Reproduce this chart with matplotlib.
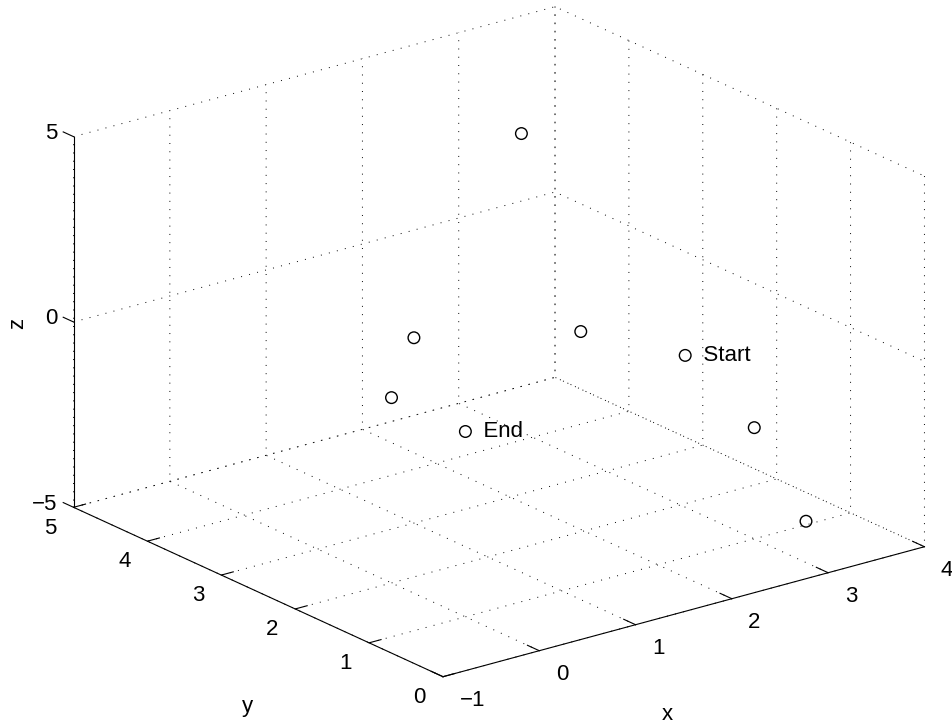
import matplotlib
matplotlib.use("Agg")
import matplotlib.pyplot as plt
from mpl_toolkits.mplot3d import proj3d

# point coordinates (first = Start, last = End)
xs = [3.05, 3.0, 2.77, 3.5, 2.5, 1.0, 0.0, 0.0]
ys = [2.0, 1.0, 0.0, 4.0, 3.5, 3.0, 2.0, 1.0]
zs = [-1.0, -2.0, -3.45, -2.5, 4.0, 0.0, 0.0, 0.0]

xticks = [-1, 0, 1, 2, 3, 4]
yticks = [0, 1, 2, 3, 4, 5]
zticks = [-5, 0, 5]

plt.rcParams['font.family'] = ['Liberation Sans', 'DejaVu Sans']
plt.rcParams['font.size'] = 16

fig = plt.figure(figsize=(9.53, 7.25), dpi=100)
# position fitted so the box lands where the reference has it
ax = fig.add_axes([0.0292, -0.1212, 0.9628, 1.2656], projection='3d',
                  proj_type='ortho')
ax.view_init(elev=20.6, azim=-127.5)
ax.set_box_aspect((1, 1, 0.6525))

x0, x1 = xticks[0], xticks[-1]
y0, y1 = yticks[0], yticks[-1]
z0, z1 = zticks[0], zticks[-1]
ax.set_xlim(x0, x1)
ax.set_ylim(y0, y1)
ax.set_zlim(z0, z1)
ax.set_xticks(xticks)
ax.set_yticks(yticks)
ax.set_zticks(zticks)

for axis, out in ((ax.xaxis, 0.40), (ax.yaxis, 0.31), (ax.zaxis, 0.35)):
    axis.set_pane_color((1, 1, 1, 0))
    axis._axinfo['grid'].update(color='k', linewidth=0.7, linestyle=(0, (1, 7.5)))
    axis._axinfo['axisline']['color'] = 'k'
    axis._axinfo['tick']['inward_factor'] = 0.0
    axis._axinfo['tick']['outward_factor'] = out
    axis._axinfo['tick']['linewidth'][True] = 0.8
    # labels are drawn by hand below
    axis.set_tick_params(label1On=False, label2On=False)
    axis.label.set_visible(False)

# matlab style: z ticks point along +y
ax.zaxis._get_tickdir = lambda *a: 1

M = ax.get_proj()


def label3d(x, y, z, s, **kw):
    # project once and place as plain 2d text in the axes' data coords
    px, py, _ = proj3d.proj_transform(x, y, z, M)
    ax.text2D(px, py, s, transform=ax.transData, **kw)


# tick labels placed just outside the axis lines
for t in xticks:
    label3d(t, y0 - 0.223, z0 - 0.16, f'{t}'.replace('-', '\u2212'),
            ha='left', va='top')
for t in yticks:
    label3d(x0 - 0.177, t, z0 - 0.154, f'{t}', ha='right', va='top')
for t in zticks:
    label3d(x0, y1 + 0.224, t - 0.121, f'{t}'.replace('-', '\u2212'),
            ha='right', va='center')

fig.text(0.6999, 0.0138, 'x', ha='center', va='center')
fig.text(0.2602, 0.0262, 'y', ha='center', va='center')
fig.text(0.0189, 0.5545, 'z', ha='center', va='center', rotation=90)

ax.scatter(xs, ys, zs, s=70, facecolors='none', edgecolors='k',
           linewidths=1.0, depthshade=False)
label3d(xs[0], ys[0], zs[0], '   Start', ha='left', va='center')
label3d(xs[-1], ys[-1], zs[-1], '   End', ha='left', va='center')

fig.savefig('out.png', dpi=100)
